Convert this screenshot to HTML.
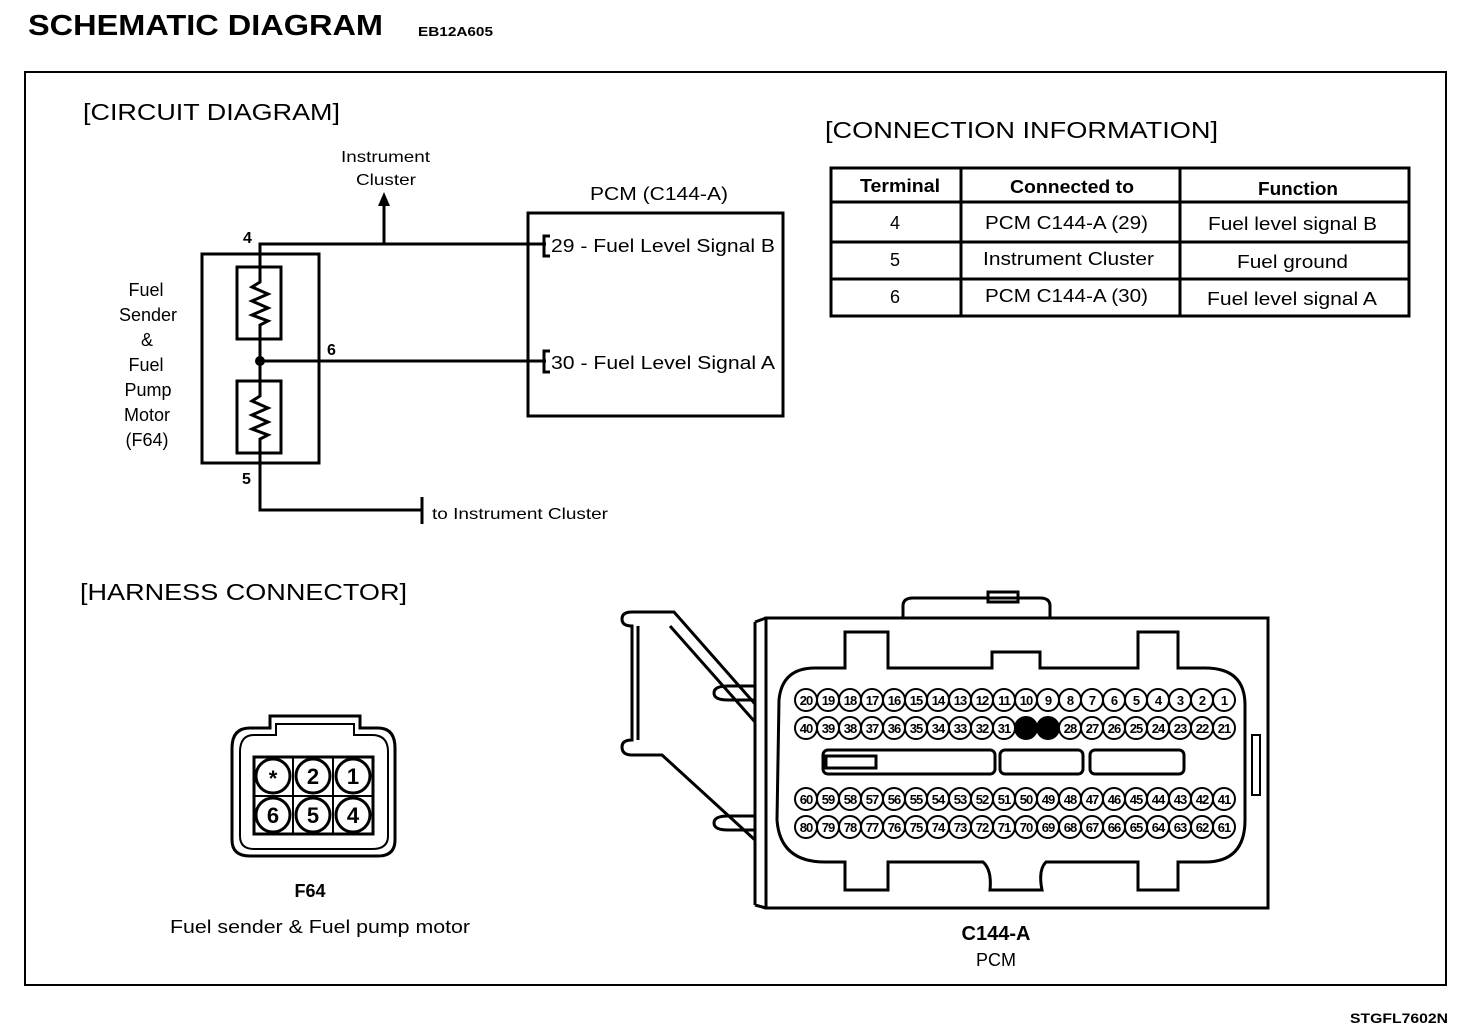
<!DOCTYPE html>
<html><head><meta charset="utf-8"><style>
html,body{margin:0;padding:0;background:#fff}
svg{display:block}
text{font-family:"Liberation Sans",Arial,sans-serif;fill:#000}
.pin circle{fill:#fff;stroke:#000;stroke-width:2}
.pin text{font-size:13px;font-weight:bold;text-anchor:middle;letter-spacing:-1px}
</style></head><body>
<svg width="1472" height="1028" viewBox="0 0 1472 1028" xmlns="http://www.w3.org/2000/svg">
<rect width="1472" height="1028" fill="#fff"/>
<text x="28" y="35" font-size="29" font-weight="bold" textLength="355" lengthAdjust="spacingAndGlyphs">SCHEMATIC  DIAGRAM</text>
<text x="418" y="36" font-size="13" font-weight="bold" textLength="75" lengthAdjust="spacingAndGlyphs">EB12A605</text>
<rect x="25" y="72" width="1421" height="913" fill="none" stroke="#000" stroke-width="2"/>
<text x="1350" y="1023" font-size="14" font-weight="bold" textLength="98" lengthAdjust="spacingAndGlyphs">STGFL7602N</text>

<text x="83" y="120" font-size="23" textLength="257" lengthAdjust="spacingAndGlyphs">[CIRCUIT DIAGRAM]</text>
<text x="825" y="138" font-size="23" textLength="393" lengthAdjust="spacingAndGlyphs">[CONNECTION INFORMATION]</text>
<text x="80" y="600" font-size="23" textLength="327" lengthAdjust="spacingAndGlyphs">[HARNESS CONNECTOR]</text>

<!-- circuit -->
<g stroke="#000" stroke-width="3" fill="none">
<rect x="202" y="254" width="117" height="209"/>
<rect x="237" y="267" width="44" height="72"/>
<rect x="237" y="381" width="44" height="72"/>
<polyline points="546,244 260,244 260,282 252,287 268,294 252,301 268,308 252,315 268,321 260,325 260,396 252,401 268,408 252,415 268,422 252,429 268,435 260,439 260,510 422,510"/>
<line x1="260" y1="361" x2="546" y2="361"/>
<line x1="384" y1="244" x2="384" y2="204"/>
<line x1="422" y1="497" x2="422" y2="524"/>
<rect x="528" y="213" width="255" height="203"/>
<polyline points="550,236 544,236 544,256 550,256"/>
<polyline points="550,351 544,351 544,372 550,372"/>
</g>
<circle cx="260" cy="361" r="5" fill="#000"/>
<polygon points="378,206 384,192 390,206" fill="#000"/>
<text x="243" y="243" font-size="16" font-weight="bold">4</text>
<text x="327" y="355" font-size="16" font-weight="bold">6</text>
<text x="242" y="484" font-size="16" font-weight="bold">5</text>
<g font-size="18" text-anchor="middle">
<text x="146" y="296">Fuel</text><text x="148" y="321">Sender</text><text x="147" y="346">&amp;</text>
<text x="146" y="371">Fuel</text><text x="148" y="396">Pump</text><text x="147" y="421">Motor</text><text x="147" y="446">(F64)</text>
</g>
<text x="341" y="162" font-size="16" textLength="89" lengthAdjust="spacingAndGlyphs">Instrument</text>
<text x="356" y="185" font-size="16" textLength="60" lengthAdjust="spacingAndGlyphs">Cluster</text>
<text x="590" y="200" font-size="18" textLength="138" lengthAdjust="spacingAndGlyphs">PCM (C144-A)</text>
<text x="551" y="252" font-size="18" textLength="224" lengthAdjust="spacingAndGlyphs">29 - Fuel Level Signal B</text>
<text x="551" y="369" font-size="18" textLength="224" lengthAdjust="spacingAndGlyphs">30 - Fuel Level Signal A</text>
<text x="432" y="519" font-size="16" textLength="176" lengthAdjust="spacingAndGlyphs">to Instrument Cluster</text>

<!-- table -->
<g stroke="#000" stroke-width="3" fill="none">
<rect x="831" y="168" width="578" height="148"/>
<line x1="961" y1="168" x2="961" y2="316"/><line x1="1180" y1="168" x2="1180" y2="316"/>
<line x1="831" y1="202" x2="1409" y2="202"/><line x1="831" y1="242" x2="1409" y2="242"/><line x1="831" y1="279" x2="1409" y2="279"/>
</g>
<g font-size="18">
<text x="860" y="192" font-weight="bold" textLength="80" lengthAdjust="spacingAndGlyphs">Terminal</text>
<text x="1010" y="193" font-weight="bold" textLength="124" lengthAdjust="spacingAndGlyphs">Connected to</text>
<text x="1258" y="195" font-weight="bold" textLength="80" lengthAdjust="spacingAndGlyphs">Function</text>
<text x="890" y="229">4</text><text x="985" y="229" textLength="163" lengthAdjust="spacingAndGlyphs">PCM C144-A (29)</text><text x="1208" y="230" textLength="169" lengthAdjust="spacingAndGlyphs">Fuel level signal B</text>
<text x="890" y="266">5</text><text x="983" y="265" textLength="171" lengthAdjust="spacingAndGlyphs">Instrument Cluster</text><text x="1237" y="268" textLength="111" lengthAdjust="spacingAndGlyphs">Fuel ground</text>
<text x="890" y="303">6</text><text x="985" y="302" textLength="163" lengthAdjust="spacingAndGlyphs">PCM C144-A (30)</text><text x="1207" y="305" textLength="170" lengthAdjust="spacingAndGlyphs">Fuel level signal A</text>
</g>

<!-- F64 connector -->
<g stroke="#000" stroke-width="3" fill="none">
<path d="M270,728 L270,716 L360,716 L360,728 L378,728 Q395,728 395,748 L395,840 Q395,856 378,856 L250,856 Q232,856 232,840 L232,748 Q232,728 250,728 Z"/>
<path d="M276,735 L276,724 L354,724 L354,735 L372,735 Q388,735 388,752 L388,836 Q388,849 372,849 L254,849 Q240,849 240,836 L240,752 Q240,735 254,735 Z" stroke-width="2"/>
<rect x="254" y="757" width="119" height="77" stroke-width="3"/>
<line x1="293" y1="757" x2="293" y2="834" stroke-width="2"/><line x1="333" y1="757" x2="333" y2="834" stroke-width="2"/>
<line x1="254" y1="796" x2="373" y2="796" stroke-width="2"/>
</g>
<g fill="#fff" stroke="#000" stroke-width="3">
<circle cx="273" cy="776" r="17"/><circle cx="313" cy="776" r="17"/><circle cx="353" cy="776" r="17"/>
<circle cx="273" cy="815" r="17"/><circle cx="313" cy="815" r="17"/><circle cx="353" cy="815" r="17"/>
</g>
<g font-size="22" font-weight="bold" text-anchor="middle">
<text x="273" y="786">*</text><text x="313" y="784">2</text><text x="353" y="784">1</text>
<text x="273" y="823">6</text><text x="313" y="823">5</text><text x="353" y="823">4</text>
</g>
<text x="310" y="897" font-size="18" font-weight="bold" text-anchor="middle">F64</text>
<text x="170" y="933" font-size="18" textLength="300" lengthAdjust="spacingAndGlyphs">Fuel sender  &amp;  Fuel pump motor</text>

<!-- C144-A connector -->
<g stroke="#000" stroke-width="3" fill="none">
<rect x="766" y="618" width="502" height="290"/>
<line x1="755" y1="622" x2="755" y2="905"/>
<polyline points="755,622 766,618"/><polyline points="755,905 766,908"/>
<path d="M903,618 L903,606 Q903,598 913,598 L1040,598 Q1050,598 1050,606 L1050,618"/>
<rect x="988" y="592" width="30" height="10"/>
<path d="M755,700 L728,700 Q714,700 714,693 Q714,686 728,686 L755,686"/>
<path d="M755,830 L728,830 Q714,830 714,823 Q714,816 728,816 L755,816"/>
<path d="M755,704 L674,612 L632,612 Q622,612 622,619 Q622,626 632,626 L632,740 Q622,740 622,747 Q622,755 632,755 L662,755 L755,840"/>
<line x1="638" y1="626" x2="638" y2="740"/>
<polyline points="670,626 755,722"/>
<path d="M845,632 L845,668 L815,668 Q782,668 779,700 L777,820 Q780,862 825,862 L845,862 L845,890 L888,890 L888,862 L983,862 Q992,870 990,890 L1042,890 Q1038,870 1046,862 L1138,862 L1138,890 L1178,890 L1178,862 L1205,862 Q1245,862 1245,820 L1245,705 Q1245,668 1205,668 L1178,668 L1178,632 L1138,632 L1138,668 L1040,668 L1040,652 L992,652 L992,668 L888,668 L888,632 Z"/>
<rect x="823" y="750" width="172" height="24" rx="5"/>
<rect x="1000" y="750" width="83" height="24" rx="5"/>
<rect x="1090" y="750" width="94" height="24" rx="5"/>
<rect x="1252" y="735" width="8" height="60" stroke-width="2"/>
</g>
<rect x="826" y="756" width="50" height="12" fill="none" stroke="#000" stroke-width="3"/>
<text x="996" y="940" font-size="20" font-weight="bold" text-anchor="middle">C144-A</text>
<text x="996" y="966" font-size="18" text-anchor="middle">PCM</text>

<g class="pin">
<g><circle cx="1224" cy="700" r="11"/><text x="1224" y="705">1</text></g>
<g><circle cx="1202" cy="700" r="11"/><text x="1202" y="705">2</text></g>
<g><circle cx="1180" cy="700" r="11"/><text x="1180" y="705">3</text></g>
<g><circle cx="1158" cy="700" r="11"/><text x="1158" y="705">4</text></g>
<g><circle cx="1136" cy="700" r="11"/><text x="1136" y="705">5</text></g>
<g><circle cx="1114" cy="700" r="11"/><text x="1114" y="705">6</text></g>
<g><circle cx="1092" cy="700" r="11"/><text x="1092" y="705">7</text></g>
<g><circle cx="1070" cy="700" r="11"/><text x="1070" y="705">8</text></g>
<g><circle cx="1048" cy="700" r="11"/><text x="1048" y="705">9</text></g>
<g><circle cx="1026" cy="700" r="11"/><text x="1026" y="705">10</text></g>
<g><circle cx="1004" cy="700" r="11"/><text x="1004" y="705">11</text></g>
<g><circle cx="982" cy="700" r="11"/><text x="982" y="705">12</text></g>
<g><circle cx="960" cy="700" r="11"/><text x="960" y="705">13</text></g>
<g><circle cx="938" cy="700" r="11"/><text x="938" y="705">14</text></g>
<g><circle cx="916" cy="700" r="11"/><text x="916" y="705">15</text></g>
<g><circle cx="894" cy="700" r="11"/><text x="894" y="705">16</text></g>
<g><circle cx="872" cy="700" r="11"/><text x="872" y="705">17</text></g>
<g><circle cx="850" cy="700" r="11"/><text x="850" y="705">18</text></g>
<g><circle cx="828" cy="700" r="11"/><text x="828" y="705">19</text></g>
<g><circle cx="806" cy="700" r="11"/><text x="806" y="705">20</text></g>
<g><circle cx="1224" cy="728" r="11"/><text x="1224" y="733">21</text></g>
<g><circle cx="1202" cy="728" r="11"/><text x="1202" y="733">22</text></g>
<g><circle cx="1180" cy="728" r="11"/><text x="1180" y="733">23</text></g>
<g><circle cx="1158" cy="728" r="11"/><text x="1158" y="733">24</text></g>
<g><circle cx="1136" cy="728" r="11"/><text x="1136" y="733">25</text></g>
<g><circle cx="1114" cy="728" r="11"/><text x="1114" y="733">26</text></g>
<g><circle cx="1092" cy="728" r="11"/><text x="1092" y="733">27</text></g>
<g><circle cx="1070" cy="728" r="11"/><text x="1070" y="733">28</text></g>
<g><circle cx="1048" cy="728" r="11" style="fill:#000"/></g>
<g><circle cx="1026" cy="728" r="11" style="fill:#000"/></g>
<g><circle cx="1004" cy="728" r="11"/><text x="1004" y="733">31</text></g>
<g><circle cx="982" cy="728" r="11"/><text x="982" y="733">32</text></g>
<g><circle cx="960" cy="728" r="11"/><text x="960" y="733">33</text></g>
<g><circle cx="938" cy="728" r="11"/><text x="938" y="733">34</text></g>
<g><circle cx="916" cy="728" r="11"/><text x="916" y="733">35</text></g>
<g><circle cx="894" cy="728" r="11"/><text x="894" y="733">36</text></g>
<g><circle cx="872" cy="728" r="11"/><text x="872" y="733">37</text></g>
<g><circle cx="850" cy="728" r="11"/><text x="850" y="733">38</text></g>
<g><circle cx="828" cy="728" r="11"/><text x="828" y="733">39</text></g>
<g><circle cx="806" cy="728" r="11"/><text x="806" y="733">40</text></g>
<g><circle cx="1224" cy="799" r="11"/><text x="1224" y="804">41</text></g>
<g><circle cx="1202" cy="799" r="11"/><text x="1202" y="804">42</text></g>
<g><circle cx="1180" cy="799" r="11"/><text x="1180" y="804">43</text></g>
<g><circle cx="1158" cy="799" r="11"/><text x="1158" y="804">44</text></g>
<g><circle cx="1136" cy="799" r="11"/><text x="1136" y="804">45</text></g>
<g><circle cx="1114" cy="799" r="11"/><text x="1114" y="804">46</text></g>
<g><circle cx="1092" cy="799" r="11"/><text x="1092" y="804">47</text></g>
<g><circle cx="1070" cy="799" r="11"/><text x="1070" y="804">48</text></g>
<g><circle cx="1048" cy="799" r="11"/><text x="1048" y="804">49</text></g>
<g><circle cx="1026" cy="799" r="11"/><text x="1026" y="804">50</text></g>
<g><circle cx="1004" cy="799" r="11"/><text x="1004" y="804">51</text></g>
<g><circle cx="982" cy="799" r="11"/><text x="982" y="804">52</text></g>
<g><circle cx="960" cy="799" r="11"/><text x="960" y="804">53</text></g>
<g><circle cx="938" cy="799" r="11"/><text x="938" y="804">54</text></g>
<g><circle cx="916" cy="799" r="11"/><text x="916" y="804">55</text></g>
<g><circle cx="894" cy="799" r="11"/><text x="894" y="804">56</text></g>
<g><circle cx="872" cy="799" r="11"/><text x="872" y="804">57</text></g>
<g><circle cx="850" cy="799" r="11"/><text x="850" y="804">58</text></g>
<g><circle cx="828" cy="799" r="11"/><text x="828" y="804">59</text></g>
<g><circle cx="806" cy="799" r="11"/><text x="806" y="804">60</text></g>
<g><circle cx="1224" cy="827" r="11"/><text x="1224" y="832">61</text></g>
<g><circle cx="1202" cy="827" r="11"/><text x="1202" y="832">62</text></g>
<g><circle cx="1180" cy="827" r="11"/><text x="1180" y="832">63</text></g>
<g><circle cx="1158" cy="827" r="11"/><text x="1158" y="832">64</text></g>
<g><circle cx="1136" cy="827" r="11"/><text x="1136" y="832">65</text></g>
<g><circle cx="1114" cy="827" r="11"/><text x="1114" y="832">66</text></g>
<g><circle cx="1092" cy="827" r="11"/><text x="1092" y="832">67</text></g>
<g><circle cx="1070" cy="827" r="11"/><text x="1070" y="832">68</text></g>
<g><circle cx="1048" cy="827" r="11"/><text x="1048" y="832">69</text></g>
<g><circle cx="1026" cy="827" r="11"/><text x="1026" y="832">70</text></g>
<g><circle cx="1004" cy="827" r="11"/><text x="1004" y="832">71</text></g>
<g><circle cx="982" cy="827" r="11"/><text x="982" y="832">72</text></g>
<g><circle cx="960" cy="827" r="11"/><text x="960" y="832">73</text></g>
<g><circle cx="938" cy="827" r="11"/><text x="938" y="832">74</text></g>
<g><circle cx="916" cy="827" r="11"/><text x="916" y="832">75</text></g>
<g><circle cx="894" cy="827" r="11"/><text x="894" y="832">76</text></g>
<g><circle cx="872" cy="827" r="11"/><text x="872" y="832">77</text></g>
<g><circle cx="850" cy="827" r="11"/><text x="850" y="832">78</text></g>
<g><circle cx="828" cy="827" r="11"/><text x="828" y="832">79</text></g>
<g><circle cx="806" cy="827" r="11"/><text x="806" y="832">80</text></g>
</g>
</svg>
</body></html>
